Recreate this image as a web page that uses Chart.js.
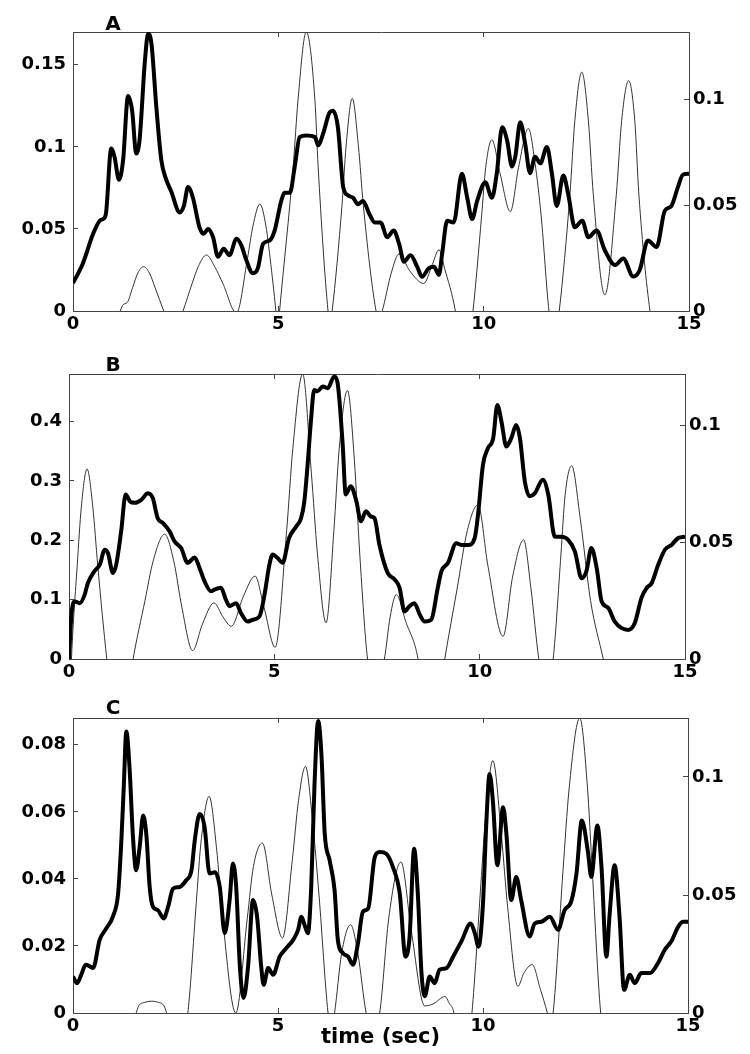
<!DOCTYPE html>
<html>
<head>
<meta charset="utf-8">
<script src="https://cdn.jsdelivr.net/npm/chart.js@4.4.1/dist/chart.umd.min.js"></script>
<style>
  body { margin: 0; background: #fff; }
  .panel { position: absolute; left: 0; width: 750px; }
</style>
</head>
<body>
<div class="panel" style="top:0"><canvas id="chartA" width="750" height="345"></canvas></div>
<div class="panel" style="top:345px"><canvas id="chartB" width="750" height="345"></canvas></div>
<div class="panel" style="top:690px"><canvas id="chartC" width="750" height="364"></canvas></div>
<script>
// x axis (time, sec)
const timeTicks = [0, 5, 10, 15];

// panel A: thick = left axis, thin = right axis
const aLeftTicks = [0, 0.05, 0.1, 0.15];
const aRightTicks = [0, 0.05, 0.1];
const aThick = [[0,0.017],[0.24,0.029],[0.49,0.047],[0.65,0.055],[0.73,0.056],[0.8,0.059],[0.93,0.099],[1.01,0.094],[1.12,0.08],[1.22,0.092],[1.34,0.131],[1.44,0.122],[1.54,0.096],[1.62,0.104],[1.75,0.152],[1.83,0.169],[1.91,0.163],[2.03,0.124],[2.15,0.092],[2.27,0.08],[2.39,0.073],[2.6,0.06],[2.7,0.064],[2.8,0.0755],[2.92,0.069],[3.08,0.051],[3.18,0.047],[3.29,0.05],[3.41,0.045],[3.53,0.033],[3.67,0.038],[3.81,0.034],[3.98,0.044],[4.1,0.04],[4.22,0.031],[4.38,0.023],[4.5,0.026],[4.63,0.041],[4.79,0.043],[4.91,0.049],[5.07,0.067],[5.15,0.072],[5.28,0.072],[5.4,0.088],[5.52,0.106],[5.68,0.107],[5.89,0.106],[5.97,0.101],[6.09,0.108],[6.25,0.121],[6.33,0.122],[6.45,0.112],[6.58,0.0755],[6.7,0.0704],[6.82,0.069],[6.94,0.065],[7.06,0.067],[7.22,0.059],[7.35,0.054],[7.49,0.054],[7.65,0.045],[7.81,0.049],[7.94,0.041],[8.06,0.03],[8.22,0.034],[8.38,0.027],[8.5,0.0208],[8.66,0.026],[8.79,0.027],[8.91,0.022],[8.99,0.035],[9.11,0.055],[9.27,0.054],[9.47,0.0836],[9.6,0.069],[9.72,0.056],[9.84,0.067],[10.04,0.0785],[10.2,0.069],[10.32,0.084],[10.45,0.112],[10.57,0.104],[10.69,0.088],[10.77,0.094],[10.89,0.115],[11.01,0.102],[11.13,0.084],[11.25,0.094],[11.38,0.09],[11.54,0.1],[11.66,0.084],[11.78,0.064],[11.94,0.0826],[12.06,0.071],[12.22,0.051],[12.4,0.055],[12.55,0.045],[12.75,0.049],[12.95,0.037],[13.2,0.028],[13.4,0.032],[13.64,0.021],[13.8,0.025],[14.0,0.043],[14.21,0.039],[14.41,0.061],[14.57,0.064],[14.73,0.0755],[14.85,0.083],[15,0.0836]];
const aThin = [[0,-0.04],[0.7,-0.03],[1.15,0],[1.22,0.003],[1.32,0.004],[1.45,0.011],[1.58,0.018],[1.72,0.021],[1.86,0.018],[2.0,0.011],[2.21,0],[2.45,-0.012],[2.68,0],[2.9,0.013],[3.05,0.021],[3.25,0.0265],[3.45,0.021],[3.65,0.013],[3.98,-0.001],[4.25,0.025],[4.38,0.04],[4.55,0.0506],[4.7,0.04],[4.8,0.025],[4.94,0],[4.985,-0.01],[5.03,0],[5.36,0.068],[5.48,0.1],[5.68,0.132],[5.89,0.1],[5.97,0.068],[6.21,0],[6.26,-0.006],[6.31,0],[6.55,0.05],[6.65,0.078],[6.8,0.1006],[6.95,0.078],[7.07,0.05],[7.37,0.001],[7.45,-0.004],[7.53,0],[7.75,0.018],[7.94,0.027],[8.2,0.019],[8.54,0.013],[8.75,0.022],[8.91,0.029],[9.05,0.02],[9.31,0],[9.52,-0.03],[9.74,0],[9.95,0.045],[10.05,0.068],[10.2,0.081],[10.4,0.065],[10.65,0.047],[10.85,0.068],[11.09,0.0864],[11.25,0.07],[11.4,0.045],[11.59,0],[11.72,-0.015],[11.84,0],[12.1,0.055],[12.22,0.09],[12.39,0.113],[12.55,0.09],[12.67,0.055],[12.95,0.0076],[13.23,0.055],[13.36,0.09],[13.53,0.109],[13.68,0.09],[13.78,0.055],[14.05,0],[14.5,-0.04],[15,-0.05]];

// panel B
const bLeftTicks = [0, 0.1, 0.2, 0.3, 0.4];
const bRightTicks = [0, 0.05, 0.1];
const bThick = [[0,0],[0.06,0.075],[0.14,0.097],[0.26,0.094],[0.38,0.108],[0.46,0.128],[0.62,0.148],[0.75,0.159],[0.87,0.184],[0.95,0.178],[1.07,0.145],[1.15,0.159],[1.27,0.215],[1.38,0.277],[1.49,0.265],[1.6,0.263],[1.76,0.268],[1.92,0.279],[2.04,0.271],[2.16,0.237],[2.29,0.229],[2.45,0.215],[2.57,0.198],[2.73,0.187],[2.89,0.162],[3.06,0.171],[3.18,0.153],[3.3,0.131],[3.46,0.114],[3.54,0.117],[3.7,0.12],[3.82,0.1],[3.91,0.089],[4.07,0.094],[4.19,0.077],[4.35,0.063],[4.47,0.066],[4.64,0.072],[4.76,0.108],[4.88,0.159],[4.96,0.176],[5.08,0.17],[5.2,0.162],[5.36,0.204],[5.53,0.223],[5.65,0.237],[5.73,0.265],[5.81,0.327],[5.89,0.4],[5.97,0.453],[6.05,0.451],[6.18,0.459],[6.3,0.456],[6.46,0.476],[6.54,0.465],[6.66,0.366],[6.74,0.277],[6.86,0.291],[6.99,0.268],[7.11,0.232],[7.23,0.249],[7.35,0.24],[7.44,0.237],[7.56,0.192],[7.76,0.145],[7.93,0.134],[8.05,0.12],[8.17,0.08],[8.29,0.089],[8.41,0.094],[8.54,0.075],[8.66,0.063],[8.82,0.066],[8.98,0.12],[9.07,0.148],[9.23,0.162],[9.43,0.195],[9.55,0.192],[9.72,0.192],[9.88,0.204],[9.96,0.243],[10.08,0.327],[10.2,0.355],[10.33,0.372],[10.43,0.428],[10.53,0.4],[10.65,0.358],[10.77,0.372],[10.89,0.394],[10.98,0.372],[11.1,0.299],[11.22,0.274],[11.34,0.279],[11.54,0.302],[11.67,0.277],[11.83,0.206],[11.99,0.206],[12.15,0.201],[12.32,0.181],[12.48,0.136],[12.6,0.148],[12.72,0.187],[12.85,0.153],[12.97,0.097],[13.13,0.086],[13.29,0.063],[13.46,0.052],[13.62,0.049],[13.78,0.061],[13.94,0.103],[14.07,0.12],[14.19,0.128],[14.35,0.159],[14.51,0.184],[14.67,0.192],[14.84,0.204],[15,0.206]];
const bThin = [[0,-0.03],[0.06,0],[0.2,0.04],[0.3,0.065],[0.44,0.0813],[0.58,0.065],[0.7,0.04],[0.92,0],[1.2,-0.04],[1.56,0],[1.85,0.025],[2.05,0.042],[2.33,0.0534],[2.55,0.042],[2.75,0.022],[3.01,0.0036],[3.25,0.015],[3.53,0.024],[3.75,0.018],[3.95,0.014],[4.25,0.027],[4.53,0.0355],[4.75,0.022],[5.02,0.005],[5.3,0.055],[5.45,0.09],[5.69,0.122],[5.9,0.08],[6.05,0.045],[6.26,0.0155],[6.45,0.055],[6.58,0.09],[6.78,0.115],[6.95,0.085],[7.08,0.045],[7.27,0],[7.48,-0.012],[7.68,0],[7.82,0.018],[7.97,0.0276],[8.2,0.016],[8.5,0],[8.8,-0.04],[9.15,0],[9.45,0.03],[9.7,0.055],[9.96,0.066],[10.2,0.04],[10.57,0.0097],[10.8,0.035],[11.07,0.051],[11.25,0.03],[11.44,0],[11.62,-0.015],[11.79,0],[11.98,0.045],[12.08,0.07],[12.24,0.0827],[12.45,0.06],[12.7,0.025],[13.01,0],[13.5,-0.04],[15,-0.05]];

// panel C
const cLeftTicks = [0, 0.02, 0.04, 0.06, 0.08];
const cRightTicks = [0, 0.05, 0.1];
const cThick = [[0,0.0109],[0.1,0.0089],[0.2,0.0114],[0.31,0.0144],[0.41,0.0139],[0.49,0.0134],[0.65,0.0218],[0.81,0.0252],[0.98,0.029],[1.1,0.0356],[1.18,0.0515],[1.24,0.068],[1.3,0.084],[1.38,0.073],[1.46,0.053],[1.54,0.0426],[1.63,0.05],[1.71,0.0589],[1.79,0.053],[1.87,0.0376],[1.95,0.0317],[2.07,0.0307],[2.21,0.0282],[2.32,0.0317],[2.44,0.0371],[2.6,0.0376],[2.76,0.0396],[2.89,0.0426],[2.97,0.0515],[3.09,0.0594],[3.21,0.0554],[3.33,0.0416],[3.46,0.042],[3.58,0.0376],[3.7,0.0238],[3.82,0.0337],[3.9,0.0446],[3.98,0.0376],[4.07,0.0139],[4.16,0.0045],[4.27,0.0139],[4.39,0.0337],[4.49,0.0287],[4.59,0.0139],[4.65,0.0084],[4.76,0.0134],[4.88,0.0114],[5.04,0.0168],[5.2,0.0193],[5.37,0.0218],[5.49,0.0248],[5.57,0.0287],[5.65,0.0262],[5.73,0.0238],[5.81,0.0376],[5.89,0.068],[5.98,0.0871],[6.06,0.077],[6.14,0.0535],[6.26,0.0455],[6.38,0.0366],[6.46,0.0218],[6.59,0.0178],[6.71,0.0168],[6.83,0.0144],[6.95,0.0208],[7.07,0.0302],[7.2,0.0312],[7.36,0.0465],[7.48,0.048],[7.64,0.0475],[7.8,0.0436],[7.97,0.0356],[8.11,0.0168],[8.21,0.0228],[8.32,0.049],[8.41,0.0356],[8.5,0.0119],[8.58,0.005],[8.7,0.0109],[8.82,0.0089],[8.94,0.0129],[9.11,0.0134],[9.27,0.0168],[9.47,0.0213],[9.7,0.0267],[9.8,0.0238],[9.89,0.0198],[10.0,0.0327],[10.08,0.0564],[10.16,0.0713],[10.24,0.0634],[10.35,0.0441],[10.49,0.0614],[10.57,0.0535],[10.69,0.0337],[10.81,0.0406],[10.93,0.0337],[11.14,0.0228],[11.26,0.0267],[11.42,0.0272],[11.63,0.0287],[11.83,0.0248],[11.99,0.0307],[12.15,0.0332],[12.28,0.0416],[12.41,0.0574],[12.56,0.048],[12.64,0.0406],[12.79,0.0559],[12.89,0.0436],[13.01,0.0168],[13.09,0.0297],[13.21,0.0441],[13.33,0.0287],[13.44,0.0069],[13.58,0.0114],[13.7,0.0089],[13.86,0.0119],[14.07,0.0119],[14.27,0.0149],[14.43,0.0188],[14.59,0.0213],[14.76,0.0257],[14.88,0.0272],[15,0.0272]];
const cThin = [[0,-0.04],[1.0,-0.02],[1.54,0],[1.6,0.003],[1.75,0.0045],[1.91,0.005],[2.08,0.0045],[2.22,0.003],[2.28,0],[2.5,-0.02],[2.8,0],[3.02,0.05],[3.12,0.072],[3.32,0.0918],[3.5,0.07],[3.65,0.04],[3.97,0],[4.25,0.04],[4.4,0.062],[4.62,0.072],[4.85,0.05],[5.11,0.0318],[5.35,0.065],[5.5,0.09],[5.67,0.1045],[5.85,0.08],[6.0,0.05],[6.22,0],[6.3,-0.008],[6.38,0],[6.55,0.025],[6.77,0.0374],[6.95,0.025],[7.15,0],[7.3,-0.008],[7.48,0],[7.7,0.04],[8.0,0.064],[8.25,0.035],[8.58,0.003],[8.8,0.004],[9.07,0.007],[9.18,0.004],[9.29,0],[9.5,-0.03],[9.73,0],[9.95,0.055],[10.05,0.08],[10.24,0.107],[10.45,0.075],[10.6,0.045],[10.85,0.0113],[11.0,0.017],[11.2,0.0205],[11.4,0.01],[11.57,0],[11.64,-0.005],[11.71,0],[11.95,0.06],[12.1,0.095],[12.36,0.125],[12.55,0.095],[12.65,0.065],[12.87,0],[13.4,-0.05],[15,-0.05]];

const tickFont = { family: 'DejaVu Sans', size: 18, weight: 'bold' };
const boxColor = '#444';

const panelLetter = {
  id: 'panelLetter',
  afterDraw(chart, args, opts) {
    const ctx = chart.ctx;
    ctx.save();
    ctx.font = 'bold 20px "DejaVu Sans"';
    ctx.fillStyle = '#000';
    ctx.textAlign = 'center';
    ctx.textBaseline = 'middle';
    ctx.fillText(opts.text, opts.x, chart.chartArea.top - opts.dy);
    ctx.restore();
  }
};

function xy(list) {
  return list.map(p => ({ x: p[0], y: p[1] }));
}

function setTicks(list) {
  return scale => { scale.ticks = list.map(v => ({ value: v })); };
}

function yAxis(pos, max, ticks, width) {
  return {
    type: 'linear', position: pos, min: 0, max: max,
    afterBuildTicks: setTicks(ticks),
    afterFit: s => { s.width = width; },
    grid: { drawOnChartArea: false, tickLength: -5, color: boxColor },
    border: { color: boxColor },
    ticks: { font: tickFont, color: '#000', padding: pos === 'left' ? 12 : 9, callback: v => String(v) }
  };
}

function makePanel(id, p) {
  new Chart(document.getElementById(id), {
    type: 'line',
    data: {
      datasets: [
        { data: xy(p.thick), xAxisID: 'x', yAxisID: 'yL', borderColor: '#000', borderWidth: 4,
          pointRadius: 0, cubicInterpolationMode: 'monotone' },
        { data: xy(p.thin), xAxisID: 'x', yAxisID: 'yR', borderColor: '#333', borderWidth: 1,
          pointRadius: 0, cubicInterpolationMode: 'monotone' }
      ]
    },
    options: {
      responsive: false,
      animation: false,
      layout: { padding: { top: p.top, left: 0, right: 0, bottom: 0 } },
      plugins: {
        legend: { display: false },
        tooltip: { enabled: false },
        panelLetter: { text: p.letter, x: 113, dy: p.letterDy }
      },
      scales: {
        x: {
          type: 'linear', position: 'bottom', min: 0, max: 15,
          afterBuildTicks: setTicks(timeTicks),
          afterFit: s => { s.height = p.xh; },
          grid: { drawOnChartArea: false, tickLength: -5, color: boxColor },
          border: { color: boxColor },
          ticks: { font: tickFont, color: '#000', padding: 8, maxRotation: 0, autoSkip: false, callback: v => String(v) },
          title: {
            display: !!p.xTitle, text: p.xTitle || '', color: '#000',
            font: { family: 'DejaVu Sans', size: 21, weight: 'bold' },
            padding: { top: 0, bottom: 4 }
          }
        },
        xTop: {
          type: 'linear', position: 'top', min: 0, max: 15,
          afterBuildTicks: setTicks(timeTicks),
          afterFit: s => { s.height = 0; },
          grid: { drawOnChartArea: false, tickLength: -5, color: boxColor },
          border: { color: boxColor },
          ticks: { display: false }
        },
        yL: yAxis('left', p.leftMax, p.leftTicks, p.left),
        yR: yAxis('right', p.rightMax, p.rightTicks, 750 - p.right)
      }
    },
    plugins: [panelLetter]
  });
}

makePanel('chartA', { letter: 'A', letterDy: 7, thick: aThick, thin: aThin, top: 32, xh: 34, left: 73, right: 689,
  leftMax: 0.17, leftTicks: aLeftTicks, rightMax: 0.132, rightTicks: aRightTicks });
makePanel('chartB', { letter: 'B', letterDy: 8, thick: bThick, thin: bThin, top: 29, xh: 31, left: 69, right: 685,
  leftMax: 0.48, leftTicks: bLeftTicks, rightMax: 0.122, rightTicks: bRightTicks });
makePanel('chartC', { letter: 'C', letterDy: 9, thick: cThick, thin: cThin, top: 28, xh: 41, left: 73, right: 688,
  leftMax: 0.088, leftTicks: cLeftTicks, rightMax: 0.125, rightTicks: cRightTicks, xTitle: 'time (sec)' });
</script>
</body>
</html>
